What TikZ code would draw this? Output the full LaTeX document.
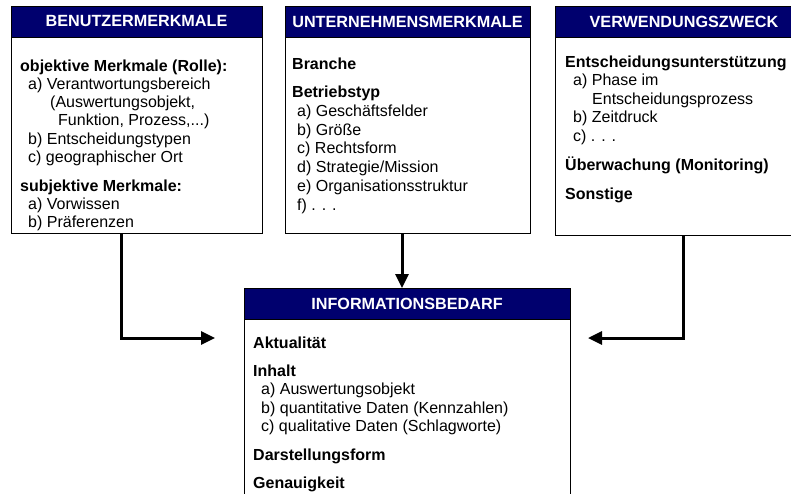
\documentclass[tikz,border=0pt]{standalone}
\usepackage{fontspec}
\setmainfont{Liberation Sans}
\usetikzlibrary{arrows.meta}
\definecolor{hdrblue}{RGB}{0,0,110}
\tikzset{
  boxbody/.style={draw=black, line width=0.9pt, fill=white, inner sep=0pt, outer sep=0pt, anchor=north west},
  hdrbox/.style={draw=black, line width=0.9pt, fill=hdrblue, inner sep=0pt, outer sep=0pt, anchor=north west},
  hdrtext/.style={text=white, font=\fontsize{16.2}{18}\selectfont\bfseries, inner sep=0pt},
  itemtxt/.style={anchor=base west, inner sep=0pt, font=\fontsize{16}{18}\selectfont},
  headtxt/.style={anchor=base west, inner sep=0pt, font=\fontsize{16}{18}\selectfont\bfseries},
  conn/.style={line width=3pt, -{Triangle[length=14pt,width=13pt]}}
}
\newcommand\mkline[4]{\node[#1] (#2) at (#3) {#4};}
\begin{document}
\begin{tikzpicture}[x=1pt,y=-1pt]
\clip (0,0) rectangle (791,493);
\fill[white] (0,0) rectangle (791,493);
% ---------- Box 1
\node[boxbody, minimum width=251pt, minimum height=196pt] (b1) at (11,37) {};
\node[hdrbox, minimum width=251pt, minimum height=31pt] (h1) at (11,6) {};
\node[hdrtext] (h1t) at (h1.center) {BENUTZERMERKMALE};
\mkline{headtxt}{b1a}{20,71}{objektive Merkmale (Rolle):}
\mkline{itemtxt}{b1b}{28,89.3}{a) Verantwortungsbereich}
\mkline{itemtxt}{b1c}{50,107.6}{(Auswertungsobjekt,}
\mkline{itemtxt}{b1d}{58,125.9}{Funktion, Prozess,...)}
\mkline{itemtxt}{b1e}{28,144.2}{b) Entscheidungstypen}
\mkline{itemtxt}{b1f}{28,162.5}{c) geographischer Ort}
\mkline{headtxt}{b1g}{20,191}{subjektive Merkmale:}
\mkline{itemtxt}{b1h}{28,209.3}{a) Vorwissen}
\mkline{itemtxt}{b1i}{28,227.6}{b) Präferenzen}
% ---------- Box 2
\node[boxbody, minimum width=245pt, minimum height=196pt] (b2) at (285,37) {};
\node[hdrbox, minimum width=245pt, minimum height=31pt] (h2) at (285,6) {};
\node[hdrtext] (h2t) at (h2.center) {UNTERNEHMENSMERKMALE};
\mkline{headtxt}{b2a}{292,69}{Branche}
\mkline{headtxt}{b2b}{292,97.5}{Betriebstyp}
\mkline{itemtxt}{b2c}{297,116.3}{a) Geschäftsfelder}
\mkline{itemtxt}{b2d}{297,135.1}{b) Größe}
\mkline{itemtxt}{b2e}{297,153.9}{c) Rechtsform}
\mkline{itemtxt}{b2f}{297,172.7}{d) Strategie/Mission}
\mkline{itemtxt}{b2g}{297,191.5}{e) Organisationsstruktur}
\mkline{itemtxt}{b2h}{297,210.3}{f) . . .}
% ---------- Box 3
\node[boxbody, minimum width=258pt, minimum height=198pt] (b3) at (555,37) {};
\node[hdrbox, minimum width=258pt, minimum height=31pt] (h3) at (555,6) {};
\node[hdrtext] (h3t) at (h3.center) {VERWENDUNGSZWECK};
\mkline{headtxt}{b3a}{565,67}{Entscheidungsunterstützung}
\mkline{itemtxt}{b3b}{573,85.6}{a) Phase im}
\mkline{itemtxt}{b3c}{592,104.2}{Entscheidungsprozess}
\mkline{itemtxt}{b3d}{573,122.8}{b) Zeitdruck}
\mkline{itemtxt}{b3e}{573,141.4}{c) . . .}
\mkline{headtxt}{b3f}{565,170.5}{Überwachung (Monitoring)}
\mkline{headtxt}{b3g}{565,199.5}{Sonstige}
% ---------- Box 4
\node[boxbody, minimum width=326pt, minimum height=190pt] (b4) at (244,319) {};
\node[hdrbox, minimum width=326pt, minimum height=31pt] (h4) at (244,288) {};
\node[hdrtext] (h4t) at (h4.center) {INFORMATIONSBEDARF};
\mkline{headtxt}{b4a}{253,348}{Aktualität}
\mkline{headtxt}{b4b}{253,376.5}{Inhalt}
\mkline{itemtxt}{b4c}{261,394.8}{a) Auswertungsobjekt}
\mkline{itemtxt}{b4d}{261,413.1}{b) quantitative Daten (Kennzahlen)}
\mkline{itemtxt}{b4e}{261,431.4}{c) qualitative Daten (Schlagworte)}
\mkline{headtxt}{b4f}{253,460}{Darstellungsform}
\mkline{headtxt}{b4g}{253,488.5}{Genauigkeit}
% ---------- Connectors
\coordinate (c1) at (121,338);
\coordinate (t1) at (215,338);
\coordinate (c3) at (683,338);
\coordinate (t3) at (588,338);
\coordinate (t2) at (402,288);
\draw[conn] (b1.south -| c1) |- (t1);
\draw[conn] (b3.south -| c3) |- (t3);
\draw[conn] (b2.south -| t2) -- (t2);
\end{tikzpicture}
\end{document}
